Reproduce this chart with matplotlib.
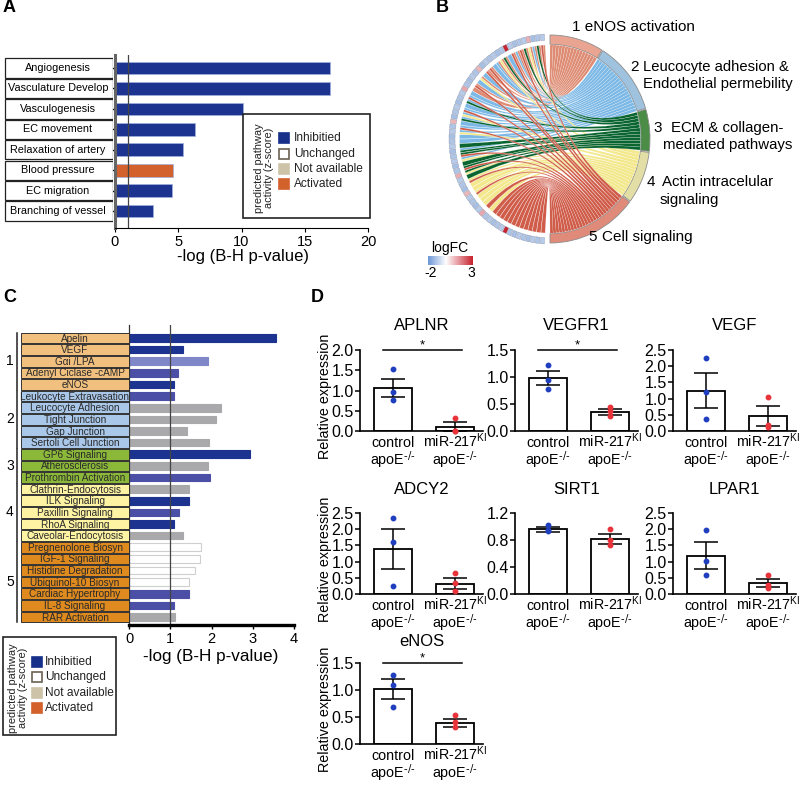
import numpy as np
import matplotlib.pyplot as plt
from matplotlib.patches import Rectangle, Wedge, PathPatch
from matplotlib.path import Path
from matplotlib.colors import LinearSegmentedColormap, Normalize
from matplotlib.ticker import FormatStrFormatter

plt.rcParams['font.family'] = ['Liberation Sans', 'DejaVu Sans']
plt.rcParams['mathtext.default'] = 'regular'

W, H = 800, 786

# ---------------- data: panel A
a_terms = ['Angiogenesis', 'Vasculature Develop', 'Vasculogenesis', 'EC movement',
           'Relaxation of artery', 'Blood pressure', 'EC migration',
           'Branching of vessel']
a_values = [17.0, 17.0, 10.1, 6.3, 5.4, 4.6, 4.5, 3.0]
a_state = ['d', 'd', 'd', 'd', 'd', 'a', 'd', 'd']

# ---------------- data: panel B (chord)
b_logfc = [-1.0, -1.1, -1.2, 1.1, -1.0, -1.1, -1.2, -1.0, 3.0, -1.1,
           -1.2, -1.0, -1.1, -1.0, -1.2, 1.0, -1.1, -1.0, -1.2, -1.1,
           1.2, -1.0, -1.1, -1.2, -1.0, -1.1, -1.2, 1.0, -1.1, -1.0,
           -1.2, -1.1, -1.0, -1.2, -1.1, -1.0, -1.2, -1.1, 1.1, -1.0,
           -1.1, -1.2, 1.0, -1.0, -1.1, -1.2, -1.0, 1.2, -1.1, -1.0,
           -1.2, -1.1, -1.0, 3.0, -1.1, -1.2, -1.0, -1.1, -1.2, -1.0,
           -1.1, -1.0]
b_seg1 = [0, 1, 2, 3, 4, 5, 6, 7, 9, 10, 11, 13, 14, 16, 18, 19]
b_seg2 = [2, 6, 8, 11, 12, 15, 17, 20, 21, 22, 23, 24, 25, 26, 27, 28, 29,
          30, 31, 33, 35]
b_seg3 = [1, 4, 9, 22, 26, 32, 33, 34, 36, 37, 38, 39]
b_seg4 = [3, 10, 16, 25, 29, 35, 38, 40, 41, 42, 43, 44, 45, 46, 48]
b_seg5 = [0, 5, 7, 13, 14, 18, 21, 24, 28, 34, 37, 40, 43, 47, 49, 50, 51,
          52, 53, 54, 55, 56, 57, 58, 59, 60, 61]

# ---------------- data: panel C
c_terms = ['Apelin', 'VEGF', 'G\u03b1i /LPA', 'Adenyl Ciclase -cAMP', 'eNOS',
           'Leukocyte Extravasation', 'Leucocyte Adhesion', 'Tight Junction',
           'Gap Junction', 'Sertoli Cell Junction',
           'GP6 Signaling', 'Atherosclerosis', 'Prothrombin Activation',
           'Clathrin-Endocytosis', 'ILK Signaling', 'Paxillin Signaling',
           'RhoA Signaling', 'Caveolar-Endocytosis',
           'Pregnenolone Biosyn', 'IGF-1 Signaling', 'Histidine Degradation',
           'Ubiquinol-10 Biosyn', 'Cardiac Hypertrophy', 'IL-8 Signaling',
           'RAR Activation']
c_values = [3.56, 1.32, 1.92, 1.19, 1.08, 1.08, 2.23, 2.10, 1.41, 1.94,
            2.94, 1.92, 1.96, 1.45, 1.45, 1.21, 1.08, 1.30,
            1.75, 1.73, 1.60, 1.45, 1.45, 1.08, 1.11]
c_state = ['d', 'd', 'l', 'm', 'd', 'm', 'g', 'g', 'g', 'g', 'd', 'g', 'm',
           'g', 'd', 'm', 'd', 'g', 'w', 'w', 'w', 'w', 'm', 'm', 'g']
c_group = [1, 1, 1, 1, 1, 2, 2, 2, 2, 2, 3, 3, 3, 4, 4, 4, 4, 4,
           5, 5, 5, 5, 5, 5, 5]

legend_names = ['Inhibitied', 'Unchanged', 'Not available', 'Activated']

# ---------------- data: panel D
d_genes = ['APLNR', 'VEGFR1', 'VEGF', 'ADCY2', 'SIRT1', 'LPAR1', 'eNOS']
d_ctrl_pts = [[1.52, 0.97, 0.77], [1.23, 0.94, 0.78], [2.24, 1.19, 0.36],
              [2.35, 1.59, 0.24], [1.02, 0.95, 0.93], [1.99, 1.01, 0.59],
              [1.28, 1.10, 0.69]]
d_ki_pts = [[0.31, 0.01, 0.0], [0.44, 0.37, 0.28], [1.06, 0.18, 0.13],
            [0.65, 0.34, 0.08], [0.96, 0.80, 0.72], [0.59, 0.29, 0.19],
            [0.53, 0.40, 0.31]]
d_ctrl_mean = [1.06, 0.98, 1.25, 1.38, 0.96, 1.18, 1.02]
d_ctrl_sem = [0.23, 0.13, 0.55, 0.62, 0.035, 0.41, 0.18]
d_ki_mean = [0.10, 0.35, 0.46, 0.32, 0.81, 0.35, 0.39]
d_ki_sem = [0.11, 0.05, 0.30, 0.17, 0.075, 0.12, 0.07]
d_sig = [True, True, False, False, False, False, True]
d_ymax = [2.0, 1.5, 2.5, 2.5, 1.2, 2.5, 1.5]
d_ystep = [0.5, 0.5, 0.5, 0.5, 0.4, 0.5, 0.5]
d_group_line1 = ['control', 'miR-217$^{KI}$']
d_group_line2 = ['apoE$^{\\text{-/-}}$', 'apoE$^{\\text{-/-}}$']

# ---------------- styles
state_col = {'d': '#1c3390', 'm': '#4b50a6', 'l': '#8087c9', 'g': '#a9a9ab',
             'w': 'white', 'a': '#d2612d'}
legend_cols = ['#17308a', 'white', '#cdc3a8', '#d2612b']
group_col = {1: '#f2c07e', 2: '#a9c7e9', 3: '#8cb83a', 4: '#fdf3a2',
             5: '#de8a1e'}
seg_ring = ['#e9a592', '#9fc2de', '#4b8d46', '#e2dea6', '#e08a7a']
seg_rib = ['#de8c74', '#7db9e6', '#0b6531', '#f3e88c', '#d05c4a']

fig = plt.figure(figsize=(8, 7.86), dpi=100)


def px_axes(x0, y0, x1, y1):
    return fig.add_axes([x0 / W, 1 - y1 / H, (x1 - x0) / W, (y1 - y0) / H])


def ftext(x, y, s, **kw):
    fig.text(x / W, 1 - y / H, s, **kw)


def draw_legend(x0, y0, x1, y1, rot_x, sq_x, text_x, item_y):
    ax = px_axes(x0, y0, x1, y1)
    ax.set_xlim(x0, x1)
    ax.set_ylim(y1, y0)
    ax.axis('off')
    ax.add_patch(Rectangle((x0 + 0.7, y0 + 0.7), x1 - x0 - 1.4, y1 - y0 - 1.4,
                           fill=False, ec='#222222', lw=1.2))
    ax.text(rot_x, (y0 + y1) / 2 + 2, 'predicted pathway\nactivity (z-score)',
            rotation=90, ha='center', va='center', fontsize=7.9,
            linespacing=1.0, color='#222222')
    for name, col, yy in zip(legend_names, legend_cols, item_y):
        ec = '#6b6252' if col == 'white' else col
        ax.add_patch(Rectangle((sq_x, yy - 5), 10, 10, fc=col, ec=ec, lw=1.2))
        ax.text(text_x, yy, name, va='center', fontsize=8.6, color='#222222')


# ================= panel A
axA = px_axes(115, 55, 368, 228)
ya = np.arange(len(a_terms))
axA.barh(ya, a_values, height=0.62, color=[state_col[s] for s in a_state],
         edgecolor='#9fb0dd', lw=0.5)
axA.axvline(1, color='#444444', lw=0.9)
axA.set_xlim(0, 20)
axA.set_ylim(7.83, -0.64)
axA.set_xticks([0, 5, 10, 15, 20])
axA.set_yticks(ya)
axA.set_yticklabels([])
axA.tick_params(axis='y', length=4, width=1)
axA.tick_params(axis='x', length=3, labelsize=10.5, pad=2)
for s in ['top', 'right']:
    axA.spines[s].set_visible(False)
axA.spines['left'].set_linewidth(2.2)
axA.spines['left'].set_color('#666666')
ftext(243, 257, '-log (B-H p-value)', ha='center', va='center', fontsize=12)

axAl = px_axes(0, 55, 113, 228)
axAl.set_xlim(0, 113)
axAl.set_ylim(7.83, -0.64)
axAl.axis('off')
for i, t in enumerate(a_terms):
    axAl.add_patch(Rectangle((5, i - 0.47), 108, 0.94, fc='white',
                             ec='#222222', lw=0.9))
    axAl.text(58, i, t, ha='center', va='center', fontsize=7.8)

draw_legend(242, 113, 371, 219, 264, 279, 294, [138, 154, 169, 184])

# ================= panel B (chord)
cmap = LinearSegmentedColormap.from_list(
    'lfc', [(0.0, '#6e97d6'), (0.4, '#ffffff'), (1.0, '#c8232e')])
norm = Normalize(-2, 3)

axB = px_axes(440, 139 - 114.4, 660, 139 + 114.4)
axB.set_xlim(-1.1, 1.1)
axB.set_ylim(-1.1, 1.1)
axB.axis('off')


def pol(a, r):
    t = np.radians(a)
    return (r * np.cos(t), r * np.sin(t))


seg_links = [b_seg1, b_seg2, b_seg3, b_seg4, b_seg5]
n_genes = len(b_logfc)
gene_links = {g: [] for g in range(n_genes)}
for k, lst in enumerate(seg_links):
    for g in lst:
        gene_links[g].append(k)

gap = 0.6
unit = (180 - 4 * gap) / sum(len(l) for l in seg_links)
seg_span = []
a = 90
for k, lst in enumerate(seg_links):
    hi = a
    lo = a - len(lst) * unit
    seg_span.append((lo, hi))
    axB.add_patch(Wedge((0, 0), 1.0, lo, hi, width=0.09, fc=seg_ring[k],
                        ec='#8c8c8c', lw=0.6))
    a = lo - gap

g_start, g_end = 93, 267
slot = (g_end - g_start) / n_genes
for i, v in enumerate(b_logfc):
    a0 = g_start + i * slot
    axB.add_patch(Wedge((0, 0), 1.01, a0 + 0.25, a0 + slot - 0.25, width=0.06,
                        fc=cmap(norm(v)), ec='#8a96ad', lw=0.3))

R = 0.905
for k in [0, 1, 3, 2, 4]:
    lo, hi = seg_span[k]
    for j, g in enumerate(sorted(seg_links[k])):
        s_hi = hi - j * unit
        s_lo = s_hi - unit
        links = gene_links[g]
        w = (slot - 0.2) / len(links)
        gg0 = g_start + g * slot + 0.1 + links.index(k) * w
        gg1 = gg0 + w
        verts = [pol(t, R) for t in np.linspace(gg0, gg1, 4)]
        codes = [Path.MOVETO] + [Path.LINETO] * 3
        verts += [(0, 0), pol(s_lo, R)]
        codes += [Path.CURVE3, Path.CURVE3]
        verts += [pol(t, R) for t in np.linspace(s_lo, s_hi, 4)[1:]]
        codes += [Path.LINETO] * 3
        verts += [(0, 0), pol(gg0, R)]
        codes += [Path.CURVE3, Path.CURVE3]
        axB.add_patch(PathPatch(Path(verts, codes), fc=seg_rib[k],
                                ec='white', lw=0.12))

# chord labels
ftext(572, 27, '1 eNOS activation', va='center', fontsize=11)
ftext(630, 67, '2', va='center', fontsize=11)
ftext(643, 67, 'Leucocyte adhesion &', va='center', fontsize=10.6)
ftext(643, 84, 'Endothelial permebility', va='center', fontsize=10.6)
ftext(653, 128, '3', va='center', fontsize=11)
ftext(671, 128, 'ECM & collagen-', va='center', fontsize=10.8)
ftext(663, 145, 'mediated pathways', va='center', fontsize=10.8)
ftext(647, 182, '4', va='center', fontsize=11)
ftext(662, 182, 'Actin intracelular', va='center', fontsize=10.8)
ftext(660, 200, 'signaling', va='center', fontsize=10.8)
ftext(588, 237, '5', va='center', fontsize=11)
ftext(602, 237, 'Cell signaling', va='center', fontsize=11)

# logFC colour key
axK = px_axes(428, 256, 472, 265)
axK.imshow(np.linspace(-2, 3, 100)[None, :], cmap=cmap, norm=norm,
           aspect='auto', extent=(-2, 3, 0, 1))
axK.axis('off')
ftext(450, 248, 'logFC', ha='center', va='center', fontsize=10)
ftext(431, 273, '-2', ha='center', va='center', fontsize=10)
ftext(471, 273, '3', ha='center', va='center', fontsize=10)

# ================= panel C
axC = px_axes(129, 325, 294, 625)
yc = np.arange(len(c_terms))
axC.barh(yc, c_values, height=0.65, color=[state_col[s] for s in c_state],
         edgecolor=['#cfcfcf' if s == 'w' else state_col[s] for s in c_state],
         lw=0.8)
axC.axvline(1, color='#444444', lw=0.9)
axC.set_xlim(0, 4)
axC.set_ylim(24.69, -1.12)
axC.set_yticks([])
axC.set_xticks([0, 1, 2, 3, 4])
axC.tick_params(axis='x', length=3, width=1, labelsize=10.5, pad=2)
for s in ['top', 'right']:
    axC.spines[s].set_visible(False)
axC.spines['bottom'].set_linewidth(2.4)
axC.spines['left'].set_linewidth(0.9)
axC.spines['left'].set_color('#333333')
ftext(211, 657, '-log (B-H p-value)', ha='center', va='center', fontsize=12.3)

axCl = px_axes(0, 325, 129, 625)
axCl.set_xlim(0, 129)
axCl.set_ylim(24.69, -1.12)
axCl.axis('off')
for i, (t, g) in enumerate(zip(c_terms, c_group)):
    axCl.add_patch(Rectangle((21, i - 0.46), 108, 0.92, fc=group_col[g],
                             ec='#333333', lw=0.7))
    axCl.text(75, i + 0.05, t, ha='center', va='center', fontsize=7.2,
              color='#2a2a2a')
for g in [1, 2, 3, 4, 5]:
    rows = [i for i, x in enumerate(c_group) if x == g]
    axCl.plot([17, 17], [rows[0] - 0.45, rows[-1] + 0.45], color='#222222',
              lw=1.1)
    axCl.text(10, (rows[0] + rows[-1]) / 2, str(g), ha='center', va='center',
              fontsize=10)

draw_legend(2, 636, 117, 736, 18, 32, 45, [662, 677, 693, 708])

# ================= panel D
col_x = [360, 515, 673]
row_y = [(350, 431), (513, 594), (663, 744)]
title_y = [325, 490, 642]
for n, gene in enumerate(d_genes):
    r, c = divmod(n, 3)
    x0 = col_x[c]
    y0, y1 = row_y[r]
    ax = px_axes(x0, y0, x0 + 123, y1)
    ax.bar([0, 1], [d_ctrl_mean[n], d_ki_mean[n]], width=0.62, color='white',
           edgecolor='black', lw=1.3)
    ax.errorbar([0, 1], [d_ctrl_mean[n], d_ki_mean[n]],
                yerr=[d_ctrl_sem[n], d_ki_sem[n]], fmt='none', ecolor='black',
                elinewidth=1.1, capsize=8.5, capthick=1.1)
    ax.plot([0] * 3, d_ctrl_pts[n], 'o', color='#1f3fbf', ms=3.2,
            clip_on=False, zorder=5)
    ax.plot([1] * 3, d_ki_pts[n], 'o', color='#e8333a', ms=3.2,
            clip_on=False, zorder=5)
    ax.set_xlim(-0.53, 1.45)
    ax.set_ylim(0, d_ymax[n])
    ax.set_yticks(np.arange(0, d_ymax[n] + 1e-6, d_ystep[n]))
    ax.yaxis.set_major_formatter(FormatStrFormatter('%.1f'))
    ax.set_xticks([0, 1])
    ax.set_xticklabels([])
    ax.tick_params(axis='x', length=0)
    ax.tick_params(axis='y', length=3.5, width=1.1, labelsize=11.5, pad=1)
    for xi in [0, 1]:
        ax.annotate(d_group_line1[xi], (xi, 0), xycoords=('data', 'axes fraction'),
                    xytext=(0, -11.5), textcoords='offset points',
                    ha='center', va='baseline', fontsize=10.3)
        ax.annotate(d_group_line2[xi], (xi, 0), xycoords=('data', 'axes fraction'),
                    xytext=(0, -24.5), textcoords='offset points',
                    ha='center', va='baseline', fontsize=10.3)
    for s in ['top', 'right']:
        ax.spines[s].set_visible(False)
    for s in ['left', 'bottom']:
        ax.spines[s].set_linewidth(1.2)
    if d_sig[n]:
        ly = d_ymax[n] * 1.005
        ax.plot([-0.16, 1.11], [ly, ly], color='black', lw=1.1, clip_on=False)
        ax.annotate('*', (0.47, ly), xytext=(0, 0.5), textcoords='offset points',
                    ha='center', va='baseline', fontsize=9.5,
                    annotation_clip=False)
    ftext(x0 + 61.5, title_y[r], gene, ha='center', va='center', fontsize=12)
    if c == 0:
        ftext(325, (y0 + y1) / 2 + 6, 'Relative expression', rotation=90,
              ha='center', va='center', fontsize=10.3)

# panel letters
ftext(3, 8, 'A', fontsize=13, fontweight='bold', va='center')
ftext(436, 8, 'B', fontsize=13, fontweight='bold', va='center')
ftext(3, 298, 'C', fontsize=13, fontweight='bold', va='center')
ftext(311, 298, 'D', fontsize=13, fontweight='bold', va='center')

fig.savefig('out.png', dpi=100)
